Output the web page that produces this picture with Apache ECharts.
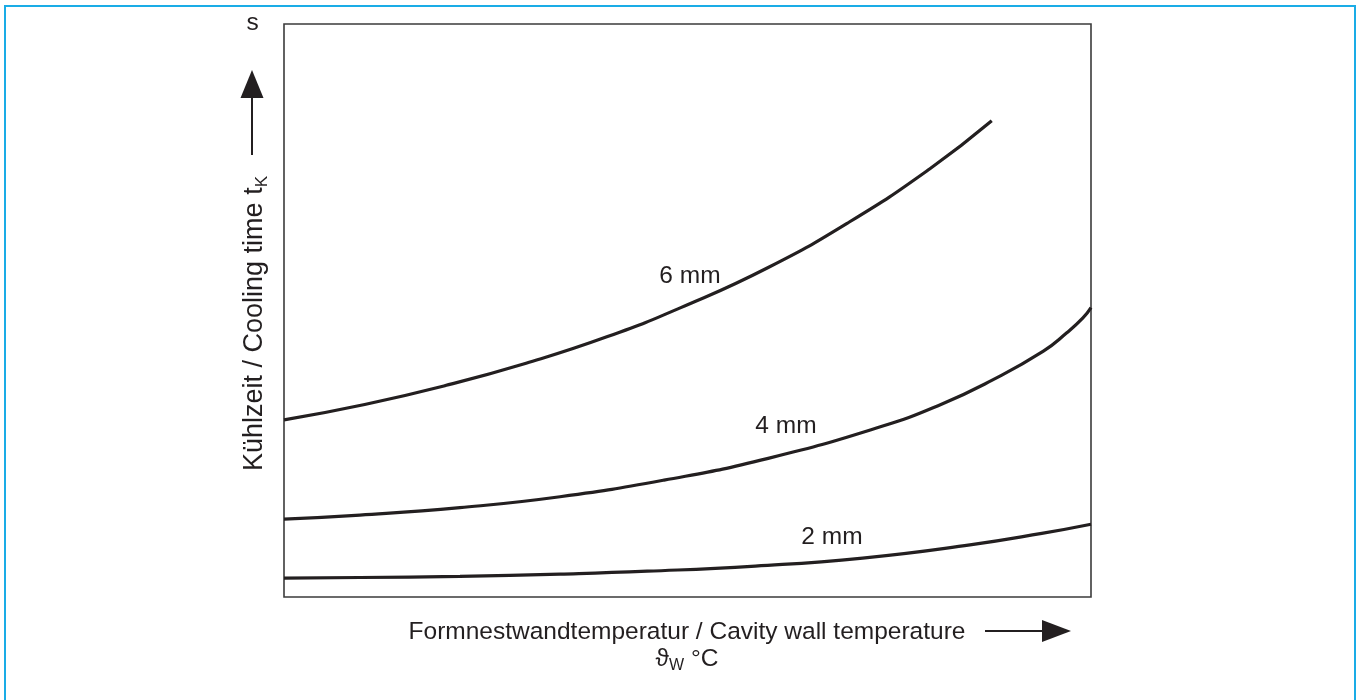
<!DOCTYPE html>
<html>
<head>
<meta charset="utf-8">
<script src="https://cdn.jsdelivr.net/npm/echarts@6/dist/echarts.min.js"></script>
<style>
  html, body { margin: 0; padding: 0; background: #fff; }
  #chart { width: 1360px; height: 700px; }
</style>
</head>
<body>
<div id="chart"></div>
<script>
// Qualitative curves: axes carry no numbers, so both run 0..100 (share of the plotted range).
const temp6 = [0, 10, 20, 30, 40, 50, 60, 70, 80, 87.7];
const time6 = [30.9, 33.6, 36.9, 40.8, 45.4, 51.0, 57.5, 65.4, 74.7, 83.1];
const temp4 = [0, 9.4, 21.8, 34.2, 47.1, 60.0, 73.9, 81.4, 87.7, 94.1, 97.0, 99.0, 100];
const time4 = [13.6, 14.3, 15.6, 17.5, 20.4, 24.2, 29.7, 33.6, 37.8, 42.9, 46.1, 48.7, 50.5];
const temp2 = [0, 9.4, 21.8, 34.2, 45.0, 58.4, 71.7, 85.0, 93.9, 100];
const time2 = [3.3, 3.4, 3.6, 4.0, 4.5, 5.4, 6.8, 9.1, 11.1, 12.7];

// Wall thickness of each curve and where its label sits
const thickness = ['6 mm', '4 mm', '2 mm'];
const labelTemp = [50.3, 62.2, 67.9];
const labelTime = [56.0, 29.8, 10.5];

const INK = '#231f20';
const FONT = '"Liberation Sans", Arial, Helvetica, sans-serif';
const FS = 24.5;
const SUB = 16;

function pairs(xs, ys) { return xs.map((x, i) => [x, ys[i]]); }

function curve(name, xs, ys) {
  return {
    name: name,
    type: 'line',
    data: pairs(xs, ys),
    smooth: 0.5,
    showSymbol: false,
    symbol: 'none',
    lineStyle: { color: INK, width: 3.2 },
    z: 3
  };
}

function subRich(size, subSize) {
  return {
    m: { fontFamily: FONT, fontSize: size, lineHeight: size + 2, verticalAlign: 'top', fill: INK },
    s: { fontFamily: FONT, fontSize: subSize, lineHeight: subSize, verticalAlign: 'bottom', fill: INK }
  };
}

const chart = echarts.init(document.getElementById('chart'), null, { renderer: 'canvas' });

chart.setOption({
  animation: false,
  backgroundColor: '#ffffff',
  grid: {
    show: true,
    left: 284, top: 24, right: 269, bottom: 103,
    borderColor: '#3b3b3b',
    borderWidth: 1.6,
    backgroundColor: 'transparent'
  },
  xAxis: {
    type: 'value', min: 0, max: 100,
    axisLine: { show: false }, axisTick: { show: false },
    axisLabel: { show: false }, splitLine: { show: false }
  },
  yAxis: {
    type: 'value', min: 0, max: 100,
    axisLine: { show: false }, axisTick: { show: false },
    axisLabel: { show: false }, splitLine: { show: false }
  },
  series: [
    curve(thickness[0], temp6, time6),
    curve(thickness[1], temp4, time4),
    curve(thickness[2], temp2, time2),
    {
      type: 'scatter',
      symbolSize: 1,
      itemStyle: { color: 'rgba(0,0,0,0)', opacity: 1 },
      data: thickness.map((t, i) => ({ name: t, value: [labelTemp[i], labelTime[i]] })),
      label: {
        show: true,
        position: 'inside',
        formatter: p => p.name,
        color: INK,
        opacity: 1,
        fontFamily: FONT,
        fontSize: FS
      },
      emphasis: { disabled: true },
      z: 4
    }
  ],
  graphic: [
    // light blue frame round the figure
    {
      type: 'rect',
      shape: { x: 5, y: 6, width: 1350, height: 704 },
      style: { fill: 'none', stroke: '#1aace6', lineWidth: 2 },
      silent: true
    },
    // unit of the vertical axis
    {
      type: 'text', x: 252.5, y: 23,
      style: { text: 's', fill: INK, font: FS + 'px ' + FONT, align: 'center', verticalAlign: 'middle' }
    },
    // upward arrow beside the vertical title
    {
      type: 'line',
      shape: { x1: 252, y1: 155, x2: 252, y2: 96 },
      style: { stroke: INK, lineWidth: 2 }
    },
    {
      type: 'polygon',
      shape: { points: [[240.5, 98], [263.5, 98], [252, 70]] },
      style: { fill: INK }
    },
    // vertical title, reading bottom to top
    {
      type: 'text', x: 256, y: 471, rotation: Math.PI / 2,
      style: {
        text: '{m|Kühlzeit / Cooling time t}{s|K}',
        fill: INK,
        align: 'left',
        verticalAlign: 'middle',
        lineHeight: 34,
        rich: subRich(27, 17)
      }
    },
    // horizontal title
    {
      type: 'text', x: 687, y: 632,
      style: {
        text: 'Formnestwandtemperatur / Cavity wall temperature',
        fill: INK, font: FS + 'px ' + FONT, align: 'center', verticalAlign: 'middle'
      }
    },
    {
      type: 'line',
      shape: { x1: 985, y1: 631, x2: 1046, y2: 631 },
      style: { stroke: INK, lineWidth: 2 }
    },
    {
      type: 'polygon',
      shape: { points: [[1042, 620], [1042, 642], [1071, 631]] },
      style: { fill: INK }
    },
    {
      type: 'text', x: 687, y: 660,
      style: {
        text: '{m|ϑ}{s|W}{m| °C}',
        fill: INK,
        align: 'center',
        verticalAlign: 'middle',
        lineHeight: 31,
        rich: subRich(FS, SUB)
      }
    }
  ]
});
</script>
</body>
</html>
